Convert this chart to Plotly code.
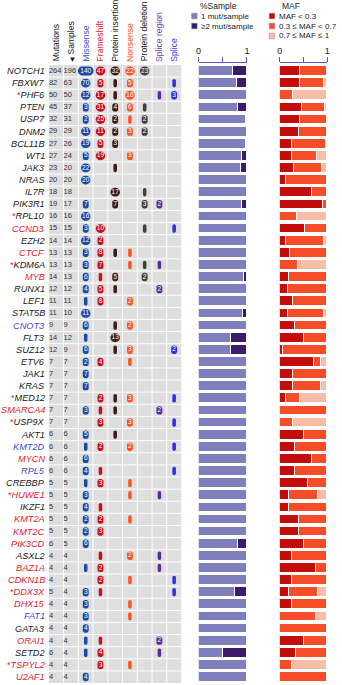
import plotly.graph_objects as go

# ---------------- data ----------------
genes = ["NOTCH1", "FBXW7", "PHF6", "PTEN", "USP7", "DNM2", "BCL11B", "WT1", "JAK3", "NRAS",
         "IL7R", "PIK3R1", "RPL10", "CCND3", "EZH2", "CTCF", "KDM6A", "MYB", "RUNX1", "LEF1",
         "STAT5B", "CNOT3", "FLT3", "SUZ12", "ETV6", "JAK1", "KRAS", "MED12", "SMARCA4", "USP9X",
         "AKT1", "KMT2D", "MYCN", "RPL5", "CREBBP", "HUWE1", "IKZF1", "KMT2A", "KMT2C", "PIK3CD",
         "ASXL2", "BAZ1A", "CDKN1B", "DDX3X", "DHX15", "FAT1", "GATA3", "ORAI1", "SETD2", "TSPYL2",
         "U2AF1"]
red_genes = ["CCND3", "CTCF", "MYB", "SMARCA4", "MYCN", "HUWE1", "KMT2A", "KMT2C", "PIK3CD", "BAZ1A",
             "CDKN1B", "DDX3X", "DHX15", "ORAI1", "TSPYL2", "U2AF1"]
blue_genes = ["CNOT3", "KMT2D", "RPL5", "FAT1"]
starred_genes = ["PHF6", "RPL10", "KDM6A", "MED12", "USP9X", "HUWE1", "DDX3X", "TSPYL2"]

mutations = [264, 82, 50, 45, 32, 29, 27, 27, 23, 20, 18, 19, 16, 15, 14, 13, 13, 14, 12, 11,
             11, 9, 14, 12, 7, 7, 7, 7, 7, 7, 6, 6, 6, 6, 5, 5, 5, 5, 5, 6,
             4, 4, 4, 5, 4, 4, 4, 4, 6, 4, 4]
samples = [196, 63, 50, 37, 31, 29, 26, 24, 20, 20, 18, 17, 16, 15, 14, 13, 13, 13, 12, 11,
           10, 9, 12, 9, 7, 7, 7, 7, 7, 7, 6, 6, 6, 6, 5, 5, 5, 5, 5, 5,
           4, 4, 4, 4, 4, 4, 4, 4, 4, 4, 4]

missense = [140, 70, 12, 3, 2, 11, 19, 5, 22, 20, 0, 7, 16, 3, 12, 3, 3, 6, 4, 1,
            11, 6, 1, 6, 2, 7, 7, 0, 3, 0, 5, 1, 6, 4, 1, 3, 4, 2, 2, 6,
            0, 1, 0, 3, 3, 3, 4, 1, 1, 0, 4]
frameshift = [47, 5, 17, 31, 25, 11, 5, 19, 0, 0, 0, 0, 0, 10, 2, 8, 7, 1, 5, 8,
              0, 0, 0, 0, 4, 0, 0, 2, 1, 3, 0, 2, 0, 1, 3, 0, 1, 2, 3, 0,
              1, 2, 2, 1, 0, 0, 0, 1, 4, 3, 0]
prot_insertion = [32, 1, 1, 4, 2, 2, 3, 0, 1, 0, 17, 7, 0, 0, 0, 1, 0, 5, 1, 0,
                  0, 1, 13, 1, 0, 0, 0, 1, 1, 0, 1, 0, 0, 0, 0, 0, 0, 0, 0, 0,
                  0, 0, 0, 0, 0, 0, 0, 0, 0, 0, 0]
nonsense = [22, 5, 16, 6, 1, 3, 0, 3, 0, 0, 0, 0, 0, 0, 0, 1, 1, 0, 0, 2,
            0, 2, 0, 3, 1, 0, 0, 3, 0, 3, 0, 2, 0, 0, 1, 1, 0, 1, 0, 0,
            2, 0, 1, 0, 1, 1, 0, 0, 0, 1, 0]
prot_deletion = [23, 0, 0, 1, 2, 2, 0, 0, 0, 0, 1, 3, 0, 1, 0, 0, 1, 2, 0, 0,
                 0, 0, 0, 0, 0, 0, 0, 0, 0, 0, 0, 0, 0, 0, 0, 0, 0, 0, 0, 0,
                 0, 0, 0, 0, 0, 0, 0, 0, 0, 0, 0]
splice_region = [0, 0, 1, 0, 0, 0, 0, 0, 0, 0, 0, 2, 0, 0, 0, 0, 1, 0, 2, 0,
                 0, 0, 0, 0, 0, 0, 0, 0, 2, 0, 0, 0, 0, 0, 0, 1, 0, 0, 0, 0,
                 1, 1, 0, 0, 0, 0, 0, 2, 1, 0, 0]
splice = [0, 1, 3, 0, 0, 0, 0, 0, 0, 0, 0, 0, 0, 1, 0, 0, 0, 0, 0, 0,
          0, 0, 0, 2, 0, 0, 0, 1, 0, 1, 0, 1, 0, 1, 0, 0, 0, 0, 0, 0,
          0, 0, 1, 1, 0, 0, 0, 0, 0, 0, 0]

sample_single = [0.71, 0.78, 1, 0.80, 0.97, 1, 0.96, 0.88, 0.86, 1, 1, 0.88, 1, 1, 1, 1, 1, 0.92, 1, 1,
                 0.90, 1, 0.67, 0.67, 1, 1, 1, 1, 1, 1, 1, 1, 1, 1, 1, 1, 1, 1, 1, 0.80,
                 1, 1, 1, 0.75, 1, 1, 1, 1, 0.50, 1, 1]
sample_multi = [0.29, 0.22, 0, 0.20, 0.03, 0, 0.04, 0.12, 0.14, 0, 0, 0.12, 0, 0, 0, 0, 0, 0.08, 0, 0,
                0.10, 0, 0.33, 0.33, 0, 0, 0, 0, 0, 0, 0, 0, 0, 0, 0, 0, 0, 0, 0, 0.20,
                0, 0, 0, 0.25, 0, 0, 0, 0, 0.50, 0, 0]

maf_low = [0.43, 0.42, 0, 0.47, 0.43, 0.41, 0.25, 0.25, 0.30, 0.13, 0.67, 0.90, 0, 0.52, 0.13, 0.22, 0, 0.19, 0.16, 0.27,
           0.17, 0.32, 0.50, 0.07, 0.72, 0.28, 0.28, 0.12, 0, 0, 0.50, 0.32, 0.67, 0.32, 0.60, 0.19, 0.19, 0.39, 0.39, 0.50,
           0.25, 0.75, 0.25, 0.20, 0.25, 0, 0, 0.50, 0.33, 0, 0]
maf_mid = [0.57, 0.51, 0.28, 0.47, 0.57, 0.59, 0.72, 0.53, 0.58, 0.87, 0.33, 0.10, 0.36, 0.48, 0.80, 0.78, 0.37, 0.81, 0.84, 0.73,
           0.75, 0.68, 0.50, 0.93, 0.14, 0.72, 0.58, 0.30, 1.0, 0.28, 0.50, 0.68, 0.33, 0.68, 0.40, 0.61, 0.81, 0.61, 0.61, 0.50,
           0.75, 0.25, 0.75, 0.60, 0.75, 0.75, 1.0, 0.50, 0.67, 0.25, 1.0]
maf_high = [0, 0.07, 0.72, 0.06, 0, 0, 0.03, 0.22, 0.12, 0, 0, 0, 0.64, 0, 0.07, 0, 0.63, 0, 0, 0,
            0.08, 0, 0, 0, 0.14, 0, 0.14, 0.58, 0, 0.72, 0, 0, 0, 0, 0, 0.20, 0, 0, 0, 0,
            0, 0, 0, 0.20, 0, 0.25, 0, 0, 0, 0.75, 0]

column_labels = ["Mutations", "<span style='font-size:6px'>◀</span> Samples", "Missense", "Frameshift",
                 "Protein insertion", "Nonsense", "Protein deletion", "Splice region", "Splice"]
tick_labels = ["0", "", "1"]

# ---------------- styling ----------------
W, H = 342, 685
FONT = "Liberation Sans, Arial, sans-serif"
ROW_TOP, ROW_H = 64.94, 12.12
GRID_X0, COL_W = 46.7, 15.0
header_colors = ["#222222", "#222222", "#3a55c8", "#e5252d", "#222222", "#ff5722", "#222222", "#6b3fb5", "#4a3cdc"]
type_colors = ["#1d4aa6", "#c3121c", "#3d1c18", "#fa561f", "#3f3f3f", "#5a2c9c", "#2e2ee6"]
type_values = [missense, frameshift, prot_insertion, nonsense, prot_deletion, splice_region, splice]
GENE_RED, GENE_BLUE = "#e5202e", "#3b4ad6"
S_LIGHT, S_DARK = "#7f7fbd", "#3b1b6b"
M_DARK, M_MID, M_LIGHT = "#c30d0b", "#f44d28", "#f8bda6"
AX_COL = "#5a58c0"
GRID_BG = "#dedede"

n = len(genes)
rows = list(range(n))
ncols = len(column_labels)


def px_x(p):
    return p / W


def px_y(p):
    return 1 - p / H


fig = go.Figure()
shapes = []

# grid background (gray cells separated by white lines)
shapes.append(dict(type="rect", xref="x", yref="y", x0=-0.5, x1=ncols - 0.5, y0=-0.5, y1=n - 0.5,
                   fillcolor=GRID_BG, line=dict(width=0), layer="below"))
for c in range(1, ncols):
    shapes.append(dict(type="line", xref="x", yref="y", x0=c - 0.5, x1=c - 0.5, y0=-0.5, y1=n - 0.5,
                       line=dict(color="white", width=1), layer="below"))
for i in range(1, n):
    shapes.append(dict(type="line", xref="x", yref="y", x0=-0.5, x1=ncols - 0.5, y0=i - 0.5, y1=i - 0.5,
                       line=dict(color="white", width=1), layer="below"))


def pill_path(cx, cy, w, h, r):
    sx, sy = 1.0 / COL_W, 1.0 / ROW_H
    k = 0.5523 * r

    def P(dx, dy):
        return f"{cx + dx * sx:.4f},{cy + dy * sy:.4f}"
    a, b = w / 2, h / 2
    return (f"M{P(-a + r, -b)} L{P(a - r, -b)} C{P(a - r + k, -b)} {P(a, -b + r - k)} {P(a, -b + r)} "
            f"L{P(a, b - r)} C{P(a, b - r + k)} {P(a - r + k, b)} {P(a - r, b)} "
            f"L{P(-a + r, b)} C{P(-a + r - k, b)} {P(-a, b - r + k)} {P(-a, b - r)} "
            f"L{P(-a, -b + r)} C{P(-a, -b + r - k)} {P(-a + r - k, -b)} {P(-a + r, -b)} Z")


for t, (vals, col) in enumerate(zip(type_values, type_colors)):
    c = t + 2
    tx, ty, tt = [], [], []
    for i, v in enumerate(vals):
        if v <= 0:
            continue
        if v == 1:
            w, h, r = 3.6, 8.4, 1.8
        elif v < 10:
            w, h, r = 6.0, 8.4, 2.4
        elif v < 100:
            w, h, r = 9.6, 8.8, 4.4
        else:
            w, h, r = 16.0, 8.8, 4.4
        shapes.append(dict(type="path", xref="x", yref="y", path=pill_path(c, i, w, h, r),
                           fillcolor=col, line=dict(width=0), layer="below"))
        if v > 1:
            tx.append(c)
            ty.append(i)
            tt.append(str(v))
    fig.add_trace(go.Scatter(x=tx, y=ty, text=tt, mode="text", textposition="middle center",
                             textfont=dict(color="white", size=6.5, family=FONT),
                             hoverinfo="skip", showlegend=False))

# counts columns
for c, vals in enumerate([mutations, samples]):
    fig.add_trace(go.Scatter(x=[c - 0.5] * n, y=rows, text=[str(v) for v in vals], mode="text",
                             textposition="middle right",
                             textfont=dict(color="#333333", size=7.5, family=FONT),
                             hoverinfo="skip", showlegend=False))


def nz(vals):
    return [v if v > 0 else None for v in vals]


bar_w = 0.8
for vals, col in [(sample_single, S_LIGHT), (sample_multi, S_DARK)]:
    fig.add_trace(go.Bar(y=rows, x=nz(vals), orientation="h", xaxis="x2", yaxis="y",
                         marker=dict(color=col, line=dict(color="white", width=1)), width=bar_w,
                         showlegend=False, hoverinfo="skip"))
for vals, col in [(maf_low, M_DARK), (maf_mid, M_MID), (maf_high, M_LIGHT)]:
    fig.add_trace(go.Bar(y=rows, x=nz(vals), orientation="h", xaxis="x3", yaxis="y",
                         marker=dict(color=col, line=dict(color="white", width=1)), width=bar_w,
                         showlegend=False, hoverinfo="skip"))

annotations = []
for i, g in enumerate(genes):
    col = GENE_RED if g in red_genes else (GENE_BLUE if g in blue_genes else "#222222")
    star = f"<span style='color:{GENE_RED}'>*</span>" if g in starred_genes else ""
    annotations.append(dict(x=px_x(44.5), xref="paper", y=i, yref="y", xanchor="right", yanchor="middle",
                            text=f"{star}<i>{g}</i>", showarrow=False,
                            font=dict(size=9.2, color=col, family=FONT)))
for c, (lab, col) in enumerate(zip(column_labels, header_colors)):
    annotations.append(dict(x=c, xref="x", y=px_y(63.5), yref="paper", xanchor="center", yanchor="bottom",
                            text=lab, textangle=-90, showarrow=False,
                            font=dict(size=8.6, color=col, family=FONT)))
annotations.append(dict(x=px_x(219), y=px_y(6), xref="paper", yref="paper", text="%Sample",
                        xanchor="center", yanchor="middle",
                        showarrow=False, font=dict(size=8.5, color="#222222", family=FONT)))
annotations.append(dict(x=px_x(293), y=px_y(6), xref="paper", yref="paper", text="MAF",
                        xanchor="center", yanchor="middle",
                        showarrow=False, font=dict(size=8.5, color="#222222", family=FONT)))
legend_items = [(192, 16, S_LIGHT, "1 mut/sample"), (192, 26, S_DARK, "≥2 mut/sample"),
                (271, 16, M_DARK, "MAF < 0.3"), (271, 26, M_MID, "0.3 ≤ MAF < 0.7"),
                (271, 36, M_LIGHT, "0.7 ≤ MAF ≤ 1")]
for x0, yc, col, lab in legend_items:
    shapes.append(dict(type="rect", xref="paper", yref="paper", x0=px_x(x0), x1=px_x(x0 + 5.6),
                       y0=px_y(yc - 2.8), y1=px_y(yc + 2.8), fillcolor=col,
                       line=dict(color="#888888", width=0.5)))
    annotations.append(dict(x=px_x(x0 + 8), y=px_y(yc), xref="paper", yref="paper", xanchor="left",
                            yanchor="middle", text=lab, showarrow=False,
                            font=dict(size=8, color="#222222", family=FONT)))

bar_axis = dict(range=[0, 1], anchor="free", position=px_y(62.3), side="top", showline=True,
                linecolor=AX_COL, linewidth=1, ticks="outside", ticklen=5, tickcolor=AX_COL,
                tickwidth=1, tickvals=[0, 0.5, 1], ticktext=tick_labels, showgrid=False,
                zeroline=False, tickfont=dict(size=9, color="#222222", family=FONT), fixedrange=True)

fig.update_layout(
    width=W, height=H, autosize=False,
    margin=dict(l=0, r=0, t=0, b=0, pad=0),
    paper_bgcolor="white", plot_bgcolor="rgba(0,0,0,0)",
    barmode="stack", bargap=0,
    showlegend=False,
    font=dict(family=FONT),
    xaxis=dict(domain=[0, px_x(GRID_X0 + ncols * COL_W)],
               range=[-(GRID_X0 + COL_W / 2) / COL_W, ncols - 0.5], visible=False, fixedrange=True),
    yaxis=dict(domain=[px_y(ROW_TOP + n * ROW_H), px_y(ROW_TOP)], range=[n - 0.5, -0.5],
               visible=False, fixedrange=True),
    xaxis2=dict(domain=[px_x(199), px_x(248.3)], **bar_axis),
    xaxis3=dict(domain=[px_x(281.7), px_x(330)], **bar_axis),
    shapes=shapes,
    annotations=annotations,
)

fig.write_html("out.html", config={"displayModeBar": False},
               post_script="document.body.style.margin='0';document.body.style.padding='0';")
